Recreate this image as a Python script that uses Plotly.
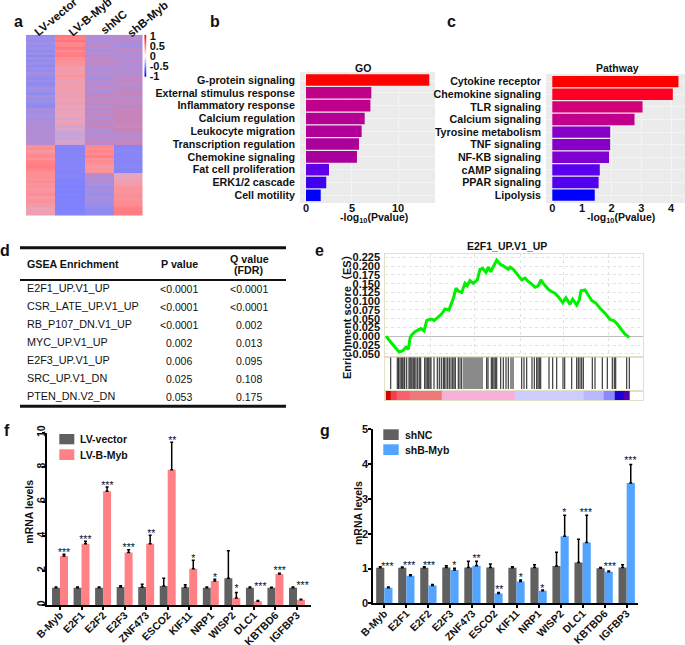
import plotly.graph_objects as go

W, H = 685, 645
FONT = "Liberation Sans, Arial, Noto Sans CJK SC, sans-serif"

# ---- panel a
heat_cols = ["LV-vector", "LV-B-Myb", "shNC", "shB-Myb"]
heat_lv_vector = [-.65,-.6,-.7,-.55,-.7,-.62,-.75,-.6,-.85,-.55,-.72,-.6,-.8,-.62,-.7,-.5,-.68,-.72,-.6,-.75,-.7,-.45,-.62,-.72,-.5,-.65,-.58,-.7,-.78,-.45,-.5,-.55,-.42,-.5,-.38,-.48,-.35,-.45,-.3,-.42,-.32,-.4,-.38,-.3,
                  .62,.7,.55,.68,.72,.6,.75,.8,.82,.78,.7,.62,.66,.6,.68,.58,.62,.55,.6,.66,.5,.58,.62,.52,.42,.36,.44,.4]
heat_lv_bmyb = [.85,.8,.9,.72,.75,.85,.7,.78,.82,.7,.62,.6,.52,.42,.5,.46,.58,.5,.42,.38,.48,.44,.4,.36,.42,.34,.38,.42,.3,.34,.3,.36,.3,.22,.34,.4,.18,.26,.16,.14,.16,.15,.2,.15,
                -.88,-.92,-.9,-.88,-.9,-.86,-.9,-.92,-.88,-.9,-.92,-.9,-.88,-.95,-.98,-.95,-1,-.96,-.98,-.95,-1,-.98,-.96,-.98,-.95,-.98,-.92,-.9]
heat_shnc = [-.42,-.35,-.48,-.3,-.2,-.4,-.5,-.3,-.15,-.35,-.2,-.1,-.42,-.45,-.38,-.3,-.42,-.5,-.2,-.38,-.1,-.3,-.42,-.15,-.05,-.3,-.1,-.2,-.4,-.05,-.3,0,-.25,-.4,-.1,-.3,0,-.2,-.42,-.12,-.3,-.45,-.1,-.35,
             .72,.65,.75,.68,.8,.62,.7,.6,.55,.58,.6,-.25,-.45,-.3,-.5,-.35,-.6,-.5,-.55,-.6,-.45,-.55,-.5,-.6,-.68,-.72,-.78,-.75]
heat_shbmyb = [-.3,-.28,-.2,-.45,-.5,-.3,-.12,-.4,-.3,-.45,-.15,-.35,-.5,-.2,-.3,-.4,-.1,-.22,-.05,-.25,-.38,-.1,-.2,0,-.3,-.15,-.1,-.25,-.05,-.15,0,-.1,-.02,0,0,-.05,.02,-.05,-.02,-.4,-.2,-.3,-.1,0,
               -.9,-.88,-.85,-.9,-.88,-.85,-.9,-.88,-.85,-.88,-.9,.3,.32,.35,.42,.48,.55,.6,.56,.62,.66,.6,.7,.68,.76,.8,.86,.82]
legend_levels = [1, .5, 0, -.5, -1]
legend_labels = ["1", "0.5", "0", "-0.5", "-1"]

# ---- panel b
go_terms = ["G-protein signaling", "External stimulus response", "Inflammatory response", "Calcium regulation",
            "Leukocyte migration", "Transcription regulation", "Chemokine signaling", "Fat cell proliferation",
            "ERK1/2 cascade", "Cell motility"]
go_values = [13.4, 7.1, 7.0, 6.38, 6.05, 5.76, 5.54, 2.5, 2.2, 1.6]

# ---- panel c
path_terms = ["Cytokine receptor", "Chemokine signaling", "TLR signaling", "Calcium signaling", "Tyrosine metabolism",
              "TNF signaling", "NF-KB signaling", "cAMP signaling", "PPAR signaling", "Lipolysis"]
path_values = [4.25, 4.06, 3.04, 2.77, 1.95, 1.95, 1.91, 1.6, 1.56, 1.43]

# ---- panel d
gsea_names = ["E2F1_UP.V1_UP", "CSR_LATE_UP.V1_UP", "RB_P107_DN.V1_UP", "MYC_UP.V1_UP", "E2F3_UP.V1_UP", "SRC_UP.V1_DN", "PTEN_DN.V2_DN"]
gsea_p = ["<0.0001", "<0.0001", "<0.0001", "0.002", "0.006", "0.025", "0.053"]
gsea_q = ["<0.0001", "<0.0001", "0.002", "0.013", "0.095", "0.108", "0.175"]

# ---- panel e
es_rank = [.7,4.7,8,11.4,14,17.4,20.7,23,24.7,26.4,29.7,33,35.4,38.7,41.4,44,46.4,49,53,56.4,59.7,63.7,66.4,68,70.7,73,76.4,79.7,82,84.7,88,92,94.7,97.4,100.7,103,105.4,108,111.4,114.7,118,123,
           124.7,128,131.4,136.4,139.7,143,146.4,149.7,153,155.7,158,163,166.4,169.7,173,177.4,180.7,184.7,187.4,191.4,194,195.7,199.7,203,206.4,210.7,214.7,219.7,224.7,228.7,232,236.4,239.7,244]
es_score = [0,-.015,-.025,-.037,-.045,-.041,-.031,-.037,-.006,.004,.013,.018,.022,.015,.045,.048,.049,.045,.056,.064,.078,.075,.096,.108,.137,.129,.125,.151,.144,.159,.151,.161,.191,.194,.182,.197,.184,.199,.217,.206,.201,.191,
            .197,.191,.180,.161,.166,.156,.149,.140,.144,.161,.151,.134,.127,.123,.113,.096,.110,.091,.106,.089,.104,.130,.132,.118,.102,.094,.080,.066,.048,.044,.035,.018,.006,-.003]
es_ticks = [.225,.2,.175,.15,.125,.1,.075,.05,.025,0,-.025,-.05]
es_tick_labels = ["0.225","0.200","0.175","0.150","0.125","0.100","0.075","0.050","0.025","0.000","-0.025","-0.050"]
es_grid_ranks = [44.7, 88.7, 134.7, 177.7, 222.7]
hit_ranks = [5.4,12,13.3,14.7,16,17.4,18.7,19.4,21.4,23.7,24.7,25.7,26.7,28,29.4,30.7,32.4,34,35.4,39.4,40.7,42,43.4,44.7,45.7,
             48.7,52,54,56,58,59,60.7,62.4,64,65.7,67.4,68.7,70,73,74.7,76.4,78.7,80.7,82.7,84.7,86.7,88.7,90.7,92.7,94.7,96.7,101.4,102.7,
             106,107.4,108.7,110,111.4,115.4,118,120.7,123,125.7,127.7,136.4,138.7,141.4,146.7,149,151.4,152.7,154,155.4,
             163.7,167.4,171.4,177.7,179.4,186.4,191.4,193,194.7,196.4,198,207,209.7,217,222,227,229,230.4,241.4,244]
strip_edges = [.4,5.4,11.4,24.7,56.4,129.7,198,218.7,229.7,238,244]
strip_metric = [1,.85,.7,.6,.3,-.2,-.3,-.5,-.9,-1]

# ---- panels f, g
genes_f = ["B-Myb","E2F1","E2F2","E2F3","ZNF473","ESCO2","KIF11","NRP1","WISP2","DLC1","KBTBD6","IGFBP3"]
f_vector = [1.0,1.0,1.0,1.05,1.05,1.1,1.03,1.0,1.55,1.0,1.0,1.0]
f_vector_err = [.05,.05,.05,.07,.15,.45,.15,.05,1.6,.05,.03,.05]
f_bmyb = [2.85,3.55,6.6,3.05,3.55,7.85,2.1,1.4,.4,.22,1.8,.3]
f_bmyb_err = [.1,.15,.25,.15,.5,1.6,.5,.1,.33,.04,.04,.03]
f_star_text = ["***","***","***","***","**","**","*","*","*","***","***","***"]
f_star_x = [.19,1.18,2.2,3.19,4.24,5.21,6.19,7.2,8.2,9.3,10.2,11.26]
f_star_y = [2.98,3.76,6.89,3.29,4.1,9.5,2.63,1.57,.89,1.03,1.93,1.07]

genes_g = ["B-Myb","E2F1","E2F2","E2F3","ZNF473","ESCO2","KIF11","NRP1","WISP2","DLC1","KBTBD6","IGFBP3"]
g_nc = [1.02,1.02,1.02,1.03,1.03,1.03,1.02,1.03,1.07,1.17,1.01,1.03]
g_nc_err = [.03,.02,.03,.05,.18,.1,.03,.08,.4,.67,.02,.08]
g_sh = [.45,.79,.51,.96,1.08,.28,.63,.36,1.93,1.75,.91,3.46]
g_sh_err = [.02,.03,.03,.05,.13,.03,.04,.02,.6,.78,.02,.53]
g_star_text = ["***","***","***","*","**","**","*","*","*","***","***","***"]
g_star_x = [.14,1.13,2.03,3.18,4.19,5.22,6.19,7.17,8.17,9.15,10.24,11.17]
g_star_y = [1.04,1.05,1.06,1.05,1.27,.36,.72,.41,2.59,2.59,1.04,4.07]


def xd(l, r):
    return [l / W, r / W]


def yd(t, b):
    return [1 - b / H, 1 - t / H]


def bold(size, color="#111"):
    return dict(family=FONT, size=size, color=color, weight="bold")


annotations = []
shapes = []


def note(px, py, text, size=10.5, weight=True, anchor="center", angle=0, color="#111"):
    annotations.append(dict(xref="paper", yref="paper", x=px / W, y=1 - py / H, text=text, showarrow=False,
                            xanchor=anchor, yanchor="middle", textangle=angle, borderpad=0,
                            font=bold(size, color) if weight else dict(family=FONT, size=size, color=color)))


fig = go.Figure()

# a: heatmap
heat_rows = [list(r) for r in zip(heat_lv_vector, heat_lv_bmyb, heat_shnc, heat_shbmyb)]
heat_scale = [[0, "#7f80ff"], [.2, "#9a8fe8"], [.32, "#b48cd4"], [.5, "#c884b8"], [.575, "#c8a4d8"],
              [.65, "#e8a4bc"], [.75, "#f59aa6"], [.85, "#ff8a90"], [1, "#ff6a70"]]
fig.add_trace(go.Heatmap(z=heat_rows, x=heat_cols, colorscale=heat_scale, zmin=-1, zmax=1, showscale=False, xaxis="x", yaxis="y"))
fig.add_trace(go.Heatmap(z=[[v] for v in legend_levels], y=legend_levels, x=["key"], zsmooth="best", showscale=False, zmin=-1, zmax=1,
                         colorscale=[[0, "#0000ff"], [.5, "#ffffff"], [1, "#ff0000"]], xaxis="x2", yaxis="y2"))

# b, c: bars
go_scale = [[0, "#0000ff"], [.076, "#5f00e8"], [.33, "#a8009e"], [.46, "#c0008c"], [1, "#ff0000"]]
fig.add_trace(go.Bar(y=go_terms, x=go_values, orientation="h", width=.9, xaxis="x3", yaxis="y3",
                     marker=dict(color=go_values, colorscale=go_scale, line=dict(width=0))))
path_scale = [[0, "#0000ff"], [.046, "#5400f0"], [.17, "#8000d0"], [.184, "#8800c8"], [.475, "#c0008c"],
              [.57, "#d40078"], [.933, "#ff0024"], [1, "#ff0000"]]
fig.add_trace(go.Bar(y=path_terms, x=path_values, orientation="h", width=.9, xaxis="x4", yaxis="y4",
                     marker=dict(color=path_values, colorscale=path_scale, line=dict(width=0))))

# e: enrichment
fig.add_trace(go.Scatter(x=es_rank, y=es_score, mode="lines", line=dict(color="#00f000", width=3), xaxis="x5", yaxis="y5"))
hit_x, hit_y = [], []
for r in hit_ranks:
    hit_x += [r, r, None]
    hit_y += [0, 1, None]
fig.add_trace(go.Scatter(x=hit_x, y=hit_y, mode="lines", line=dict(color="#2a2a2a", width=1.1), xaxis="x6", yaxis="y6"))
strip_scale = [[0, "#5000b0"], [.05, "#2000d0"], [.25, "#8888ff"], [.35, "#b8b8ff"], [.4, "#ccccff"], [.65, "#f8b0d8"],
               [.8, "#ee7878"], [.85, "#f86070"], [.925, "#f04050"], [1, "#d80000"]]
fig.add_trace(go.Heatmap(z=[strip_metric], x=strip_edges, y=[0, 1], zmin=-1, zmax=1, colorscale=strip_scale, showscale=False, xaxis="x7", yaxis="y7"))


def err(vals):
    return dict(type="data", symmetric=False, array=vals, arrayminus=[0] * len(vals), color="#000", thickness=1.5, width=1.5)


# f
idx = list(range(12))
fig.add_trace(go.Bar(x=idx, y=f_vector, name="LV-vector", marker=dict(color="#606060", line=dict(width=0)), error_y=err(f_vector_err), xaxis="x8", yaxis="y8"))
fig.add_trace(go.Bar(x=idx, y=f_bmyb, name="LV-B-Myb", marker=dict(color="#ff8085", line=dict(width=0)), error_y=err(f_bmyb_err), xaxis="x8", yaxis="y8"))
fig.add_trace(go.Scatter(x=f_star_x, y=f_star_y, text=f_star_text, mode="text", textposition="middle center", textfont=dict(family=FONT, size=10.5, color="#111"), xaxis="x8", yaxis="y8"))
# g
fig.add_trace(go.Bar(x=idx, y=g_nc, name="shNC", marker=dict(color="#606060", line=dict(width=0)), error_y=err(g_nc_err), xaxis="x9", yaxis="y9"))
fig.add_trace(go.Bar(x=idx, y=g_sh, name="shB-Myb", marker=dict(color="#52a4ff", line=dict(width=0)), error_y=err(g_sh_err), xaxis="x9", yaxis="y9"))
fig.add_trace(go.Scatter(x=g_star_x, y=g_star_y, text=g_star_text, mode="text", textposition="middle center", textfont=dict(family=FONT, size=10.5, color="#111"), xaxis="x9", yaxis="y9"))

hidden = dict(showgrid=False, zeroline=False, showticklabels=False, ticks="", showline=False)
frame = dict(showline=True, linecolor="#e4e0c8", linewidth=1, mirror=True, zeroline=False, ticks="", showticklabels=False, showgrid=False)
layout = dict(
    template="none",
    width=W, height=H, autosize=False, margin=dict(l=0, r=0, t=0, b=0, pad=0), paper_bgcolor="#fff", plot_bgcolor="rgba(0,0,0,0)",
    showlegend=False, barmode="group", bargap=.26, bargroupgap=0, font=dict(family=FONT, size=10.5, color="#111"),
    xaxis=dict(domain=xd(26, 142.5), anchor="y", **hidden),
    yaxis=dict(domain=yd(34.7, 215.7), anchor="x", autorange="reversed", **hidden),
    xaxis2=dict(domain=xd(144.3, 146.7), anchor="y2", **hidden),
    yaxis2=dict(domain=yd(34.7, 77), anchor="x2", side="right", range=[-1.06, 1.06], tickvals=legend_levels, ticktext=legend_labels,
                ticks="", tickfont=bold(11), showgrid=False, zeroline=False, showline=False, ticklabelstandoff=2),
    xaxis3=dict(domain=xd(300, 435), anchor="y3", range=[-.65, 14.02], tickvals=[0, 5, 10], ticks="", tickfont=bold(11), gridcolor="#f4f4f4", zeroline=False, ticklabelstandoff=-3),
    yaxis3=dict(domain=yd(72, 203), anchor="x3", range=[9.6, -.625], tickmode="array", tickvals=go_terms, ticks="", tickfont=bold(10.7), gridcolor="#f4f4f4", ticklabelstandoff=4),
    xaxis4=dict(domain=xd(546, 685), anchor="y4", range=[-.212, 4.47], tickvals=[0, 1, 2, 3, 4], ticks="", tickfont=bold(11), gridcolor="#f4f4f4", zeroline=False, ticklabelstandoff=-3),
    yaxis4=dict(domain=yd(74, 203), anchor="x4", range=[9.63, -.61], tickmode="array", tickvals=path_terms, ticks="", tickfont=bold(10.7), gridcolor="#f4f4f4", ticklabelstandoff=4),
    xaxis5=dict(domain=xd(385.3, 642.7), anchor="y5", range=[0, 257.4], tickvals=es_grid_ranks, showticklabels=False, ticks="", showgrid=True,
                gridcolor="#e2e2e2", griddash="dot", zeroline=False, showline=True, linecolor="#e4e0c8", mirror=True),
    yaxis5=dict(domain=yd(254.3, 357.3), anchor="x5", range=[-.0599, .2338], tickvals=es_ticks, ticktext=es_tick_labels, ticks="", tickfont=bold(11),
                showgrid=True, gridcolor="#e2e2e2", griddash="dot", zeroline=True, zerolinecolor="#bdbdbd", zerolinewidth=1,
                showline=True, linecolor="#e4e0c8", mirror=True, ticklabelstandoff=2),
    xaxis6=dict(domain=xd(385.3, 642.7), anchor="y6", range=[0, 257.4], **frame),
    yaxis6=dict(domain=yd(357.3, 391), anchor="x6", range=[-.06, 1], **frame),
    xaxis7=dict(domain=xd(385.3, 642.7), anchor="y7", range=[0, 257.4], **frame),
    yaxis7=dict(domain=yd(391, 400), anchor="x7", range=[0, 1], **frame),
    xaxis8=dict(domain=xd(46.7, 311), anchor="y8", range=[-.617, 11.65], tickvals=idx, ticktext=genes_f, tickangle=-45, tickfont=bold(10.5), ticklabelstandoff=-5,
                ticks="outside", ticklen=3, tickwidth=1.5, tickcolor="#000", showline=True, linecolor="#000", linewidth=2, showgrid=False, zeroline=False),
    yaxis8=dict(domain=yd(432.7, 605), anchor="x8", range=[0, 10], tickvals=[0, 2, 4, 6, 8, 10], tickangle=-90, tickfont=bold(10.5), ticklabelstandoff=-7,
                ticks="outside", ticklen=3, tickwidth=1.5, tickcolor="#000", showline=True, linecolor="#000", linewidth=2, showgrid=False, zeroline=False),
    xaxis9=dict(domain=xd(373.3, 637.7), anchor="y9", range=[-.5, 11.5], tickvals=idx, ticktext=genes_g, tickangle=-45, tickfont=bold(10.5), ticklabelstandoff=-5,
                ticks="outside", ticklen=3, tickwidth=1.5, tickcolor="#000", showline=True, linecolor="#000", linewidth=2, showgrid=False, zeroline=False),
    yaxis9=dict(domain=yd(429.3, 603.3), anchor="x9", range=[0, 5], tickvals=[0, 1, 2, 3, 4, 5], tickfont=bold(11), ticklabelstandoff=-2,
                ticks="outside", ticklen=3, tickwidth=1.5, tickcolor="#000", showline=True, linecolor="#000", linewidth=2, showgrid=False, zeroline=False),
)

# grey panels behind b and c
for (l, t, r, b) in [(300, 72, 435, 203), (546, 74, 685, 203)]:
    shapes.append(dict(type="rect", xref="paper", yref="paper", layer="below", x0=l / W, x1=r / W, y0=1 - b / H, y1=1 - t / H, fillcolor="#ebebeb", line=dict(width=0)))

# panel letters
for px, py, t in [(18, 21, "a"), (215, 21, "b"), (451, 22, "c"), (5, 250, "d"), (319, 250, "e"), (7, 430, "f"), (325, 430, "g")]:
    note(px, py, t, size=16)

# column labels of the heatmap
for col, (cx, cy) in zip(heat_cols, [(55.5, 17), (90, 17), (114, 22.5), (147.5, 18.5)]):
    note(cx, cy, col, 11.5, angle=-40)

# titles
note(363, 68, "GO", 10.5)
note(374, 218, "-log<sub>10</sub>(Pvalue)", 10.5)
note(617, 68, "Pathway", 10.5)
note(621, 218, "-log<sub>10</sub>(Pvalue)", 10.5)
note(506.7, 245.7, "E2F1_UP.V1_UP", 10.5)
note(347, 314, "Enrichment score（ES）", 11, angle=-90)
note(29, 511.7, "mRNA levels", 10.5, angle=-90)
note(358, 513, "mRNA levels", 10.5, angle=-90)

# table d
for y_, w_ in [(247.7, 3), (280, 2), (406.3, 3)]:
    shapes.append(dict(type="line", xref="paper", yref="paper", x0=20 / W, x1=286 / W, y0=1 - y_ / H, y1=1 - y_ / H, line=dict(color="#111", width=w_)))
note(26, 264, "GSEA Enrichment", 10.7, anchor="left")
note(179, 264, "P value", 10.7)
note(249, 258.7, "Q value", 10.7)
note(249, 270.3, "(FDR)", 10.7)
for i, (n_, p_, q_) in enumerate(zip(gsea_names, gsea_p, gsea_q)):
    note(26, 288.3 + 18 * i, n_, 10.8, weight=False, anchor="left")
    note(179, 289.3 + 18 * i, p_, 10.5, weight=False)
    note(249, 289.3 + 18 * i, q_, 10.5, weight=False)

# f, g legends
for (l, t, r, b, c, label, tx, ty) in [
    (59.3, 434, 74.3, 444.3, "#606060", "LV-vector", 79.3, 439.3),
    (59.3, 449.3, 74.3, 460, "#ff8085", "LV-B-Myb", 79.3, 455),
    (383.3, 429.3, 398.7, 440, "#606060", "shNC", 404, 434.7),
    (383.3, 444.3, 398.7, 455, "#52a4ff", "shB-Myb", 404, 450),
]:
    shapes.append(dict(type="rect", xref="paper", yref="paper", x0=l / W, x1=r / W, y0=1 - b / H, y1=1 - t / H, fillcolor=c, line=dict(width=0)))
    note(tx, ty, label, 10.5, anchor="left")

layout["annotations"] = annotations
layout["shapes"] = shapes
fig.update_layout(**layout)
fig.write_html("out.html", config={"displayModeBar": False}, post_script="document.body.style.margin='0';")
